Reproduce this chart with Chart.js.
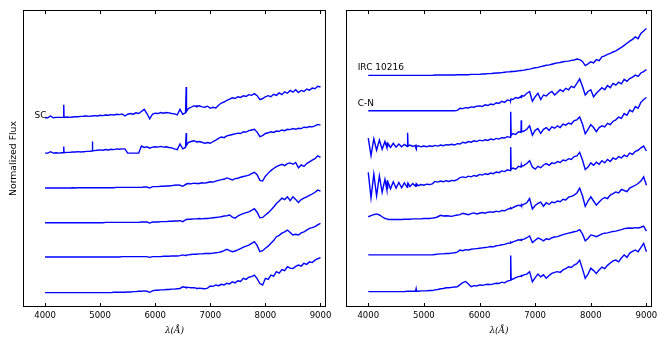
<!DOCTYPE html>
<html lang="en">
<head>
<meta charset="UTF-8">
<title>Spectra</title>
<script src="https://cdn.jsdelivr.net/npm/chart.js"></script>
<style>
  body { margin: 0; background: #fff; }
  #wrap { position: relative; width: 670px; height: 349px; }
  canvas { position: absolute; top: 0; }
</style>
</head>
<body>
<div id="wrap">
  <canvas id="left" width="335" height="349" style="left:0"></canvas>
  <canvas id="right" width="335" height="349" style="left:335px"></canvas>
</div>
<script>
// wavelength grid (Angstrom), shared by all spectra
const wave = [
  4000, 4050, 4100, 4150, 4200, 4250, 4300,
  4335, 4340, 4345,
  4350, 4400, 4450, 4500, 4550, 4600, 4650, 4700,
  4705, 4710, 4715,
  4750, 4800, 4850,
  4855, 4860, 4865,
  4900, 4950, 5000, 5050, 5100, 5150, 5200, 5250, 5300, 5350, 5400,
  5450, 5500, 5550, 5600, 5650, 5700, 5750, 5800, 5850, 5900, 5950, 6000,
  6050, 6100, 6150, 6200, 6250, 6300, 6350, 6400, 6450, 6500, 6550,
  6558, 6563, 6568,
  6600, 6650, 6700,
  6745, 6750, 6755,
  6800, 6850, 6900, 6950, 7000, 7050, 7100, 7150, 7200, 7250, 7300,
  7350, 7400, 7450, 7500, 7550, 7600, 7650, 7700, 7750, 7800, 7850,
  7900, 7950, 8000, 8050, 8100, 8150, 8200, 8250, 8300, 8350, 8400,
  8450, 8500, 8550, 8600, 8650, 8700, 8750, 8800, 8850, 8900, 8950, 9000
];
const xTicks = [4000, 5000, 6000, 7000, 8000, 9000];

// left panel, top to bottom
const sc = [
  0, 0, 0.05, 0, 0.01, 0.01, 0.01,
  0.01, 0.37, 0.01,
  0.01, 0.02, 0.01, 0.02, 0.03, 0.03, 0.04, 0.04,
  0.04, 0.04, 0.05,
  0.05, 0.04, 0.05,
  0.05, 0.05, 0.05,
  0.06, 0.05, 0.07, 0.06, 0.08, 0.07, 0.09, 0.08, 0.10, 0.09, 0.11,
  0.05, 0.10, 0.12, 0.10, 0.14, 0.12, 0.18, 0.24, 0.12, -0.03, 0.10, 0.13,
  0.12, 0.15, 0.13, 0.15, 0.14, 0.12, 0.11, 0.08, 0.24, 0.10, 0.14,
  0.14, 0.88, 0.18,
  0.26, 0.30, 0.34,
  0.33, 0.36, 0.32,
  0.34, 0.31, 0.30, 0.33, 0.27, 0.30, 0.28, 0.36, 0.42, 0.45, 0.50,
  0.53, 0.57, 0.55, 0.60, 0.58, 0.63, 0.61, 0.66, 0.64, 0.69, 0.63,
  0.52, 0.55, 0.60, 0.63, 0.60, 0.67, 0.64, 0.71, 0.66, 0.74, 0.70,
  0.78, 0.73, 0.80, 0.72, 0.78, 0.75, 0.82, 0.79, 0.85, 0.83, 0.90, 0.88
];
const sc2 = [
  0, 0, 0.04, 0, 0.01, 0, 0.01,
  0.01, 0.19, 0.01,
  0.01, 0.02, 0.02, 0.03, 0.03, 0.04, 0.03, 0.04,
  0.04, 0.04, 0.04,
  0.05, 0.05, 0.06,
  0.06, 0.33, 0.07,
  0.07, 0.08, 0.09, 0.08, 0.10, 0.09, 0.11, 0.10, 0.12, 0.11, 0.12,
  0.12, 0, 0, 0, 0, 0, 0.20, 0.16, 0.18, 0.14, 0.17, 0.18,
  0.17, 0.19, 0.17, 0.18, 0.16, 0.15, 0.12, 0.10, 0.26, 0.12, 0.16,
  0.16, 0.57, 0.22,
  0.30, 0.33, 0.35,
  0.33, 0.34, 0.32,
  0.33, 0.31, 0.28, 0.30, 0.28, 0.33, 0.37, 0.42, 0.46, 0.44, 0.49,
  0.51, 0.53, 0.55, 0.57, 0.56, 0.61, 0.60, 0.64, 0.66, 0.68, 0.60,
  0.47, 0.50, 0.56, 0.58, 0.61, 0.59, 0.63, 0.62, 0.66, 0.64, 0.68,
  0.67, 0.70, 0.68, 0.71, 0.70, 0.74, 0.73, 0.76, 0.75, 0.78, 0.82, 0.80
];
const l3 = [
  0, 0, 0, 0, 0, 0, 0,
  0, 0, 0,
  0, 0, 0, 0.01, 0, 0.01, 0.01, 0.01,
  0.01, 0.01, 0.01,
  0.01, 0.01, 0.01,
  0.01, 0.01, 0.01,
  0.01, 0.01, 0.01, 0.01, 0.01, 0.01, 0.01, 0.01, 0.02, 0.02, 0.02,
  0.02, 0.02, 0.02, 0.02, 0.02, 0.02, 0.02, 0.03, 0.03, 0, 0.04, 0.04,
  0.04, 0.05, 0.05, 0.06, 0.06, 0.07, 0.08, 0.09, 0.08, 0.05, 0.10,
  0.11, 0.12, 0.12,
  0.13, 0.12, 0.14,
  0.13, 0.14, 0.13,
  0.13, 0.15, 0.14, 0.16, 0.18, 0.17, 0.20, 0.22, 0.24, 0.25, 0.29,
  0.26, 0.23, 0.27, 0.28, 0.31, 0.33, 0.35, 0.37, 0.41, 0.45, 0.38,
  0.22, 0.20, 0.34, 0.42, 0.50, 0.56, 0.61, 0.65, 0.68, 0.64, 0.70,
  0.72, 0.68, 0.73, 0.58, 0.66, 0.62, 0.70, 0.75, 0.80, 0.84, 0.92, 0.88
];
const l4 = [
  0, 0, 0, 0, 0, 0, 0,
  0, 0, 0,
  0, 0, 0, 0, 0, 0, 0, 0,
  0, 0, 0,
  0, 0, 0,
  0, 0, 0,
  0, 0, 0, 0, 0.01, 0.01, 0.01, 0.01, 0.01, 0.01, 0.01,
  0.01, 0.01, 0.01, 0.01, 0.01, 0.01, 0.02, 0.02, 0.02, -0.01, 0.02, 0.02,
  0.02, 0.03, 0.03, 0.03, 0.04, 0.04, 0.05, 0.05, 0.06, 0.03, 0.08,
  0.08, 0.09, 0.09,
  0.10, 0.10, 0.11,
  0.11, 0.11, 0.11,
  0.12, 0.11, 0.12, 0.12, 0.13, 0.14, 0.15, 0.16, 0.17, 0.19, 0.20,
  0.22, 0.16, 0.13, 0.19, 0.23, 0.26, 0.29, 0.31, 0.35, 0.40, 0.30,
  0.14, 0.15, 0.22, 0.28, 0.36, 0.45, 0.55, 0.62, 0.70, 0.66, 0.74,
  0.63, 0.74, 0.66, 0.58, 0.66, 0.70, 0.74, 0.78, 0.82, 0.87, 0.93, 0.90
];
const l5 = [
  0, 0, 0, 0, 0, 0, 0,
  0, 0, 0,
  0, 0, 0, 0, 0, 0, 0, 0,
  0, 0, 0,
  0, 0, 0,
  0, 0, 0,
  0, 0, 0, 0, 0, 0, 0, 0, 0, 0, 0.01,
  0.01, 0.01, 0.01, 0.01, 0.01, 0.01, 0.01, 0.01, 0.01, -0.01, 0.01, 0.01,
  0.01, 0.01, 0.02, 0.02, 0.02, 0.03, 0.03, 0.03, 0.04, 0.06, 0.04,
  0.05, 0.05, 0.05,
  0.06, 0.07, 0.08,
  0.08, 0.08, 0.08,
  0.09, 0.09, 0.10, 0.10, 0.10, 0.11, 0.12, 0.13, 0.15, 0.18, 0.22,
  0.18, 0.15, 0.17, 0.20, 0.24, 0.28, 0.31, 0.34, 0.39, 0.44, 0.33,
  0.15, 0.18, 0.25, 0.31, 0.39, 0.47, 0.58, 0.62, 0.68, 0.72, 0.77,
  0.70, 0.63, 0.65, 0.63, 0.69, 0.72, 0.77, 0.82, 0.84, 0.87, 0.92, 0.96
];
const l6 = [
  0, 0, 0, 0, 0, 0, 0,
  0, 0, 0,
  0, 0, 0, 0, 0, 0, 0, 0,
  0, 0, 0,
  0, 0, 0,
  0, 0, 0,
  0, 0, 0, 0, 0, 0, 0, 0.01, 0.01, 0.01, 0.01,
  0.01, 0.02, 0.02, 0.03, 0.03, 0.04, 0.04, 0.05, 0.04, 0.01, 0.05, 0.07,
  0.07, 0.08, 0.08, 0.09, 0.09, 0.10, 0.10, 0.11, 0.12, 0.17, 0.15,
  0.15, 0.16, 0.15,
  0.15, 0.14, 0.14,
  0.13, 0.14, 0.12,
  0.13, 0.12, 0.11, 0.13, 0.19, 0.18, 0.22, 0.20, 0.24, 0.22, 0.27,
  0.25, 0.31, 0.28, 0.34, 0.32, 0.41, 0.38, 0.44, 0.46, 0.50, 0.40,
  0.26, 0.22, 0.41, 0.38, 0.50, 0.47, 0.60, 0.56, 0.66, 0.63, 0.74,
  0.70, 0.69, 0.75, 0.79, 0.76, 0.84, 0.81, 0.88, 0.86, 0.93, 0.97, 1.00
];

// right panel, top to bottom
const irc = [
  0, 0, 0, 0, 0, 0, 0,
  0, 0, 0,
  0, 0, 0, 0, 0, 0, 0, 0,
  0, 0, 0,
  0, 0, 0,
  0, 0, 0,
  0, 0, 0, 0, 0, 0, 0.01, 0.01, 0.01, 0.01, 0.01,
  0.01, 0.01, 0.01, 0.02, 0.02, 0.02, 0.02, 0.02, 0.03, 0.03, 0.03, 0.03,
  0.04, 0.04, 0.05, 0.05, 0.06, 0.07, 0.07, 0.08, 0.09, 0.10, 0.10,
  0.10, 0.11, 0.11,
  0.11, 0.12, 0.13,
  0.14, 0.14, 0.14,
  0.15, 0.17, 0.18, 0.20, 0.22, 0.23, 0.25, 0.27, 0.29, 0.30, 0.32,
  0.34, 0.36, 0.37, 0.39, 0.40, 0.41, 0.43, 0.44, 0.47, 0.45, 0.40,
  0.28, 0.33, 0.39, 0.36, 0.45, 0.42, 0.53, 0.56, 0.60, 0.63, 0.67,
  0.70, 0.75, 0.80, 0.86, 0.92, 0.98, 1.03, 1.10, 1.05, 1.20, 1.27, 1.34
];
const cn = [
  0, 0, 0, 0, 0, 0, 0,
  0, 0, 0,
  0, 0, 0, 0, 0, 0, 0, 0,
  0, 0, 0,
  0, 0, 0,
  0, 0, 0,
  0, 0, 0, 0, 0, 0, 0, 0, 0, 0, 0,
  0, 0, 0, 0.01, 0.07, 0.06, 0.09, 0.08, 0.11, 0.10, 0.13, 0.14,
  0.12, 0.17, 0.15, 0.19, 0.17, 0.23, 0.21, 0.27, 0.24, 0.31, 0.29,
  0.33, 0.30, 0.34,
  0.32, 0.38, 0.36,
  0.41, 0.38, 0.43,
  0.42, 0.50, 0.55, 0.27, 0.40, 0.50, 0.32, 0.45, 0.42, 0.50, 0.55,
  0.45, 0.52, 0.60, 0.55, 0.64, 0.60, 0.70, 0.66, 0.78, 0.91, 0.70,
  0.45, 0.55, 0.60, 0.40, 0.50, 0.58, 0.66, 0.60, 0.72, 0.66, 0.78,
  0.73, 0.82, 0.77, 0.90, 0.84, 0.92, 0.96, 1.02, 0.98, 1.08, 1.12, 1.18
];
const r3 = [
  0.20, -0.30, 0.18, -0.15, 0.14, -0.12, 0.10,
  -0.08, 0.08, -0.06,
  0.06, -0.07, 0.05, -0.06, 0.03, -0.05, 0.02, -0.04,
  -0.02, 0.35, -0.03,
  0, -0.04, -0.01,
  -0.04, -0.02, -0.05,
  -0.02, -0.05, -0.03, -0.05, -0.02, -0.04, -0.01, -0.03, 0, -0.02, 0.01,
  0, 0.02, 0, 0.04, 0.03, 0.08, 0.06, 0.10, 0.08, 0.12, 0.10, 0.14,
  0.12, 0.15, 0.13, 0.17, 0.15, 0.19, 0.17, 0.21, 0.20, 0.24, 0.22,
  0.25, 0.95, 0.28,
  0.33, 0.30, 0.38,
  0.36, 0.71, 0.38,
  0.40, 0.45, 0.55, 0.28, 0.42, 0.47, 0.33, 0.45, 0.50, 0.42, 0.52,
  0.48, 0.55, 0.50, 0.60, 0.57, 0.63, 0.60, 0.70, 0.72, 0.80, 0.60,
  0.32, 0.45, 0.58, 0.50, 0.38, 0.50, 0.55, 0.52, 0.62, 0.58, 0.68,
  0.72, 0.80, 0.76, 0.90, 0.85, 1.00, 0.95, 1.10, 1.05, 1.22, 1.30, 1.36
];
const r4 = [
  0.35, -0.38, 0.30, -0.32, 0.25, -0.22, 0.15,
  -0.15, 0.12, -0.13,
  0.10, -0.12, 0.08, -0.10, 0.06, -0.09, 0.05, -0.08,
  0.04, -0.07, 0.04,
  -0.06, 0.03, -0.05,
  0.02, -0.04, 0.02,
  -0.03, 0, -0.02, 0.01, 0, 0.02, 0.09, 0.07, 0.10, 0.08, 0.11,
  0.09, 0.12, 0.11, 0.14, 0.20, 0.22, 0.20, 0.24, 0.22, 0.26, 0.24, 0.29,
  0.27, 0.31, 0.29, 0.33, 0.31, 0.36, 0.34, 0.39, 0.37, 0.42, 0.40,
  0.43, 1.07, 0.44,
  0.47, 0.44, 0.52,
  0.50, 0.56, 0.52,
  0.55, 0.60, 0.68, 0.50, 0.44, 0.52, 0.48, 0.56, 0.60, 0.55, 0.62,
  0.60, 0.66, 0.63, 0.70, 0.68, 0.74, 0.72, 0.80, 0.82, 0.92, 0.70,
  0.43, 0.50, 0.62, 0.55, 0.64, 0.58, 0.68, 0.62, 0.72, 0.66, 0.76,
  0.72, 0.80, 0.76, 0.84, 0.80, 0.90, 0.86, 0.95, 0.98, 1.05, 1.10, 0.96
];
const r5 = [
  0, 0.03, 0.06, 0.08, 0.05, 0, -0.05,
  -0.06, -0.06, -0.07,
  -0.07, -0.08, -0.08, -0.08, -0.08, -0.08, -0.07, -0.07,
  -0.07, -0.07, -0.07,
  -0.07, -0.06, -0.06,
  -0.06, -0.06, -0.06,
  -0.06, -0.06, -0.05, -0.05, -0.05, -0.04, -0.03, 0, 0.04, 0.02, 0.03,
  0.02, 0.01, 0.03, 0.05, 0.06, 0.10, 0.08, 0.06, 0.09, 0.11, 0.08, 0.10,
  0.12, 0.10, 0.13, 0.14, 0.13, 0.16, 0.14, 0.18, 0.17, 0.21, 0.24,
  0.23, 0.25, 0.24,
  0.26, 0.30, 0.33,
  0.31, 0.34, 0.32,
  0.36, 0.40, 0.52, 0.22, 0.32, 0.38, 0.42, 0.30, 0.40, 0.35, 0.42,
  0.40, 0.45, 0.43, 0.50, 0.48, 0.56, 0.58, 0.62, 0.68, 0.82, 0.60,
  0.30, 0.45, 0.57, 0.45, 0.33, 0.42, 0.50, 0.55, 0.52, 0.62, 0.66,
  0.71, 0.68, 0.78, 0.75, 0.72, 0.82, 0.86, 0.90, 0.95, 1.02, 1.14, 0.90
];
const r6 = [
  0, 0, 0, 0, 0, 0, 0,
  0, 0, 0,
  0, 0, 0, 0, 0, 0, 0, 0,
  0, 0, 0,
  0, 0, 0,
  0, 0, 0,
  0, 0, 0, 0, 0, 0, 0.01, 0.02, 0.03, 0.03, 0.04,
  0.04, 0.05, 0.06, 0.08, 0.14, 0.12, 0.15, 0.14, 0.16, 0.17, 0.18, 0.19,
  0.20, 0.21, 0.22, 0.24, 0.23, 0.26, 0.27, 0.29, 0.30, 0.33, 0.34,
  0.35, 0.36, 0.35,
  0.37, 0.40, 0.43,
  0.42, 0.44, 0.43,
  0.45, 0.49, 0.54, 0.35, 0.42, 0.48, 0.45, 0.40, 0.46, 0.44, 0.49,
  0.51, 0.52, 0.55, 0.58, 0.60, 0.62, 0.64, 0.66, 0.68, 0.72, 0.60,
  0.40, 0.47, 0.57, 0.55, 0.52, 0.56, 0.60, 0.62, 0.63, 0.65, 0.67,
  0.68, 0.70, 0.72, 0.75, 0.76, 0.77, 0.76, 0.78, 0.77, 0.79, 0.82, 0.68
];
const r7 = [
  0, 0, 0, 0, 0, 0, 0,
  0, 0, 0,
  0, 0, 0, 0, 0, 0, 0, 0.01,
  0.01, 0.01, 0.01,
  0.01, 0.01, 0.01,
  0.01, 0.08, 0.01,
  0.01, 0.02, 0.02, 0.02, 0.03, 0.03, 0.05, 0.06, 0.08, 0.09, 0.11,
  0.11, 0.12, 0.13, 0.14, 0.20, 0.26, 0.29, 0.22, 0.14, 0.17, 0.16, 0.19,
  0.18, 0.20, 0.21, 0.20, 0.22, 0.24, 0.23, 0.27, 0.25, 0.30, 0.32,
  0.33, 1.03, 0.34,
  0.36, 0.40, 0.43,
  0.44, 0.46, 0.45,
  0.48, 0.50, 0.57, 0.28, 0.40, 0.50, 0.42, 0.48, 0.38, 0.46, 0.52,
  0.55, 0.57, 0.55, 0.62, 0.66, 0.71, 0.69, 0.76, 0.80, 0.90, 0.65,
  0.38, 0.50, 0.67, 0.60, 0.52, 0.62, 0.70, 0.66, 0.75, 0.82, 0.88,
  0.90, 0.85, 0.96, 1.05, 0.98, 1.10, 1.15, 1.19, 1.14, 1.26, 1.38, 1.14
];

// vertical offsets that stack the spectra
const leftSpectra = [sc, sc2, l3, l4, l5, l6];
const leftOffsets = [5.41, 4.40, 3.40, 2.41, 1.43, 0.41];
const rightSpectra = [irc, cn, r3, r4, r5, r6, r7];
const rightOffsets = [6.62, 5.61, 4.63, 3.50, 2.58, 1.49, 0.44];

const leftNotes = [{ text: 'SC', x: 3810, y: 5.47 }];
const rightNotes = [{ text: 'IRC 10216', x: 3810, y: 6.83 }, { text: 'C-N', x: 3810, y: 5.81 }];

Chart.defaults.font.family = 'DejaVu Sans';
Chart.defaults.color = '#000';

// box around the plot, inward ticks top and bottom, text notes
const framePlugin = {
  id: 'frame',
  afterDatasetsDraw(chart, args, opts) {
    const { ctx, chartArea: a, scales: { x, y } } = chart;
    ctx.save();
    ctx.strokeStyle = '#000';
    ctx.lineWidth = 1;
    ctx.strokeRect(a.left + 0.5, a.top + 0.5, a.right - a.left - 1, a.bottom - a.top - 1);
    ctx.beginPath();
    x.ticks.forEach(t => {
      const px = Math.round(x.getPixelForValue(t.value)) + 0.5;
      ctx.moveTo(px, a.top);
      ctx.lineTo(px, a.top + 4);
      ctx.moveTo(px, a.bottom);
      ctx.lineTo(px, a.bottom - 4);
    });
    ctx.stroke();
    ctx.fillStyle = '#000';
    ctx.font = '9px "DejaVu Sans"';
    ctx.textAlign = 'left';
    ctx.textBaseline = 'middle';
    (opts.notes || []).forEach(n => {
      ctx.fillText(n.text, x.getPixelForValue(n.x), y.getPixelForValue(n.y));
    });
    ctx.restore();
  }
};

function makeChart(id, spectra, offsets, notes, yWidth, padRight, yTitle) {
  const datasets = spectra.map((flux, k) => ({
    data: flux.map((f, i) => ({ x: wave[i], y: f + offsets[k] })),
    borderColor: '#0000ff',
    borderWidth: 1.4,
    pointRadius: 0,
    tension: 0,
    fill: false
  }));
  return new Chart(document.getElementById(id), {
    type: 'line',
    data: { datasets },
    options: {
      responsive: false,
      animation: false,
      events: [],
      layout: { padding: { left: 0, right: padRight, top: 10, bottom: 0 } },
      plugins: {
        legend: { display: false },
        tooltip: { enabled: false },
        frame: { notes }
      },
      scales: {
        x: {
          type: 'linear',
          min: 3600,
          max: 9100,
          grid: { display: false, drawTicks: false },
          border: { display: false },
          afterBuildTicks: s => { s.ticks = xTicks.map(v => ({ value: v })); },
          afterFit: s => { s.height = 42; },
          ticks: {
            font: { size: 8.5 },
            padding: 3.6,
            maxRotation: 0,
            callback: v => String(v)
          },
          title: {
            display: true,
            text: 'λ(Å)',
            font: { family: 'DejaVu Serif', style: 'italic', size: 9 },
            padding: { top: 0, bottom: 12.6 }
          }
        },
        y: {
          min: 0,
          max: 8.49,
          grid: { display: false, drawTicks: false },
          border: { display: false },
          ticks: { display: false },
          afterFit: s => { s.width = yWidth; },
          title: {
            display: !!yTitle,
            text: yTitle || '',
            font: { size: 9.3 },
            padding: { top: 7.8, bottom: 0 }
          }
        }
      }
    },
    plugins: [framePlugin]
  });
}

makeChart('left', leftSpectra, leftOffsets, leftNotes, 23, 6, 'Normalized Flux');
makeChart('right', rightSpectra, rightOffsets, rightNotes, 11, 18, '');
</script>
</body>
</html>
